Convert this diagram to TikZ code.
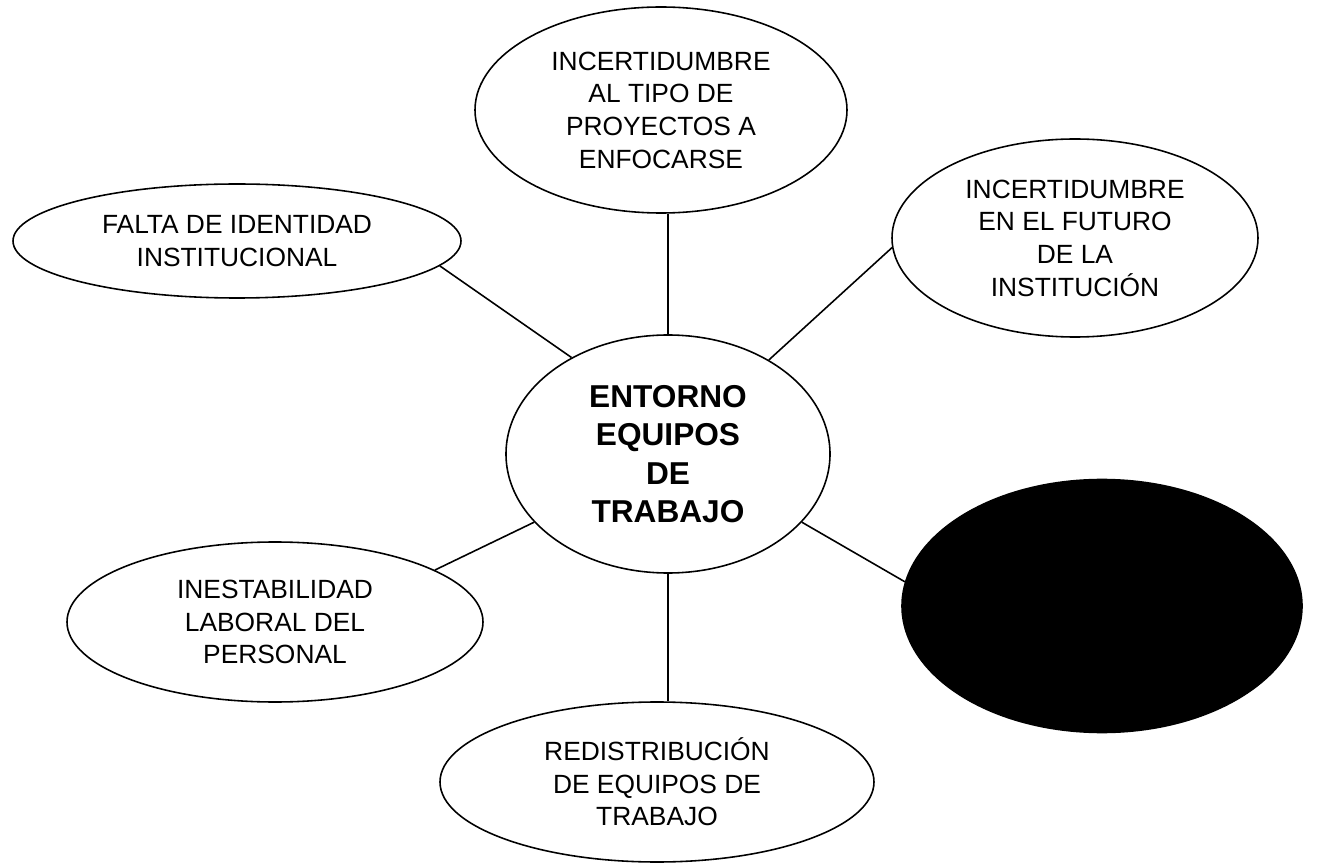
\documentclass[tikz,border=0pt]{standalone}
\usepackage{fontspec}
\setmainfont{Liberation Sans}
\usetikzlibrary{shapes.geometric}

\begin{document}
\begin{tikzpicture}[
 bubble/.style={ellipse, draw=black, line width=0.9pt, inner sep=0pt, align=center,
   font=\fontsize{15}{18.6}\selectfont},
 link/.style={black, line width=0.9pt}
 ]
\useasboundingbox (0,0) rectangle (26.52,17.28);
\node[bubble, minimum width=6.48cm, minimum height=4.76cm,
  font=\bfseries\fontsize{18}{21.9}\selectfont] (c) at (13.36,8.20) {ENTORNO\\EQUIPOS\\DE\\TRABAJO};
\node[bubble, minimum width=7.44cm, minimum height=4.12cm] (top) at (13.22,15.08)
  {INCERTIDUMBRE\\AL TIPO DE\\PROYECTOS A\\ENFOCARSE};
\node[bubble, minimum width=8.96cm, minimum height=2.28cm] (ident) at (4.74,12.46)
  {FALTA DE IDENTIDAD\\INSTITUCIONAL};
\node[bubble, minimum width=7.32cm, minimum height=3.96cm] (futuro) at (21.50,12.52)
  {INCERTIDUMBRE\\EN EL FUTURO\\DE LA\\INSTITUCIÓN};
\node[bubble, minimum width=8.32cm, minimum height=3.2cm] (inest) at (5.50,4.84)
  {INESTABILIDAD\\LABORAL DEL\\PERSONAL};
\node[bubble, minimum width=8.68cm, minimum height=3.2cm] (redis) at (13.14,1.64)
  {REDISTRIBUCIÓN\\DE EQUIPOS DE\\TRABAJO};
\node[bubble, fill=black, minimum width=8cm, minimum height=5.06cm] (blk) at (22.04,5.16) {};
\draw[link] (c.north) -- (c.north |- top.south);
\draw[link] (ident.-7) -- (c.135);
\draw[link] (futuro.183) -- (c.43);
\draw[link] (c.-27) -- (blk.173);
\draw[link] (c.207) -- (inest.18);
\draw[link] (c.south) -- (c.south |- redis.north);
\end{tikzpicture}
\end{document}
